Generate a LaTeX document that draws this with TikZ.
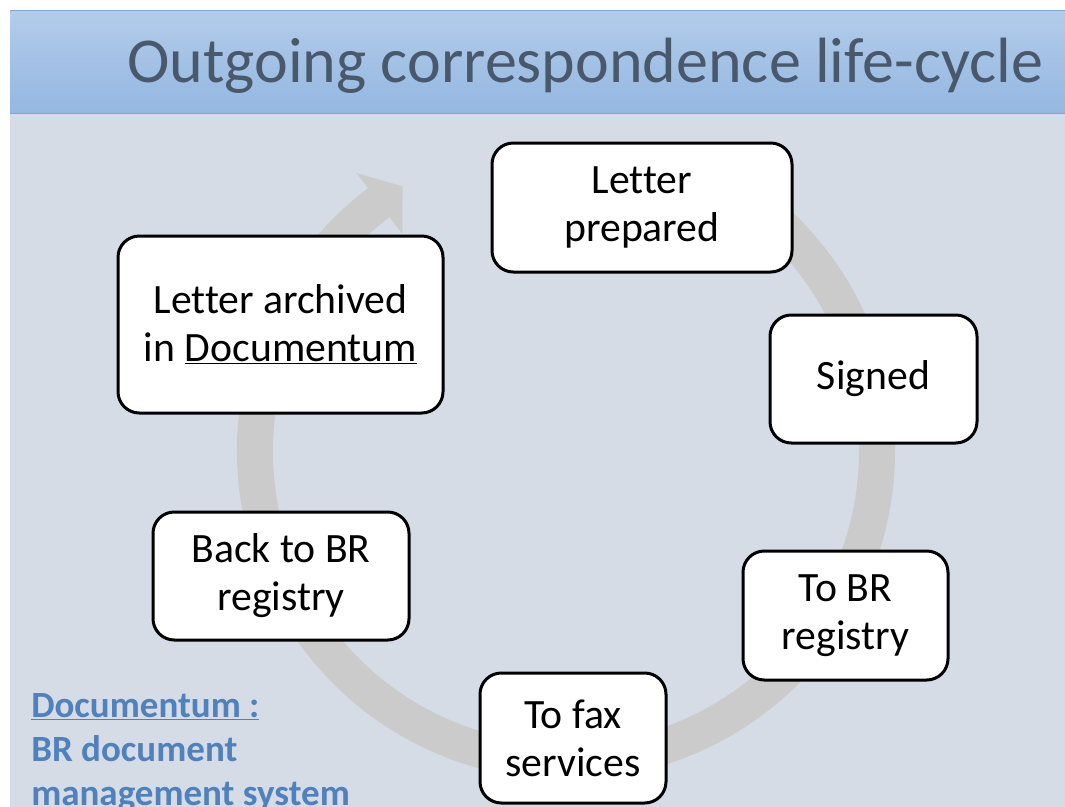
\documentclass[tikz,border=0pt]{standalone}
\usepackage{fontspec}
\setmainfont{Carlito}[Ligatures=CommonOff]
\usetikzlibrary{calc}
\definecolor{slideBg}{HTML}{D5DCE6}
\definecolor{barTop}{HTML}{B3CCEA}
\definecolor{barBottom}{HTML}{94B7E1}
\definecolor{barLine}{HTML}{7EA8DC}
\definecolor{titleText}{HTML}{4A586C}
\definecolor{ringGrey}{HTML}{CBCBCB}
\definecolor{noteBlue}{HTML}{4F81BD}
\tikzstyle{stage} = [rectangle, rounded corners=16pt, draw=black, line width=2.25pt, fill=white, align=center, inner sep=0pt, font=\fontsize{31.3}{36}\selectfont]
\tikzstyle{note} = [align=left, inner sep=0pt, text=noteBlue, font=\bfseries\fontsize{27.75}{33}\selectfont]

\begin{document}
\begin{tikzpicture}[x=0.75pt, y=-0.75pt]
\clip (0,0) rectangle (1065,807);
% Slide background and title bar
\fill[white] (0,0) rectangle (1065,807);
\fill[slideBg] (10,113) rectangle (1065,807);
\shade[top color=barTop, bottom color=barBottom] (10,10) rectangle (1065,113);
\draw[barLine, line width=0.75pt] (10,10) -- (1065,10) (10,113) -- (1065,113);
\node (title) [anchor=base west, inner sep=0pt, text=titleText, font=\fontsize{48}{57}\selectfont] at (127,82) {Outgoing correspondence life-cycle};

% Cycle arrow behind the stages
\coordinate (hub) at (566,451);
\fill[ringGrey] (hub) ++(-68:329) arc[start angle=-68, end angle=233, radius=329]
  -- ($(hub)+(233:348)$) -- ($(hub)+(238.3:311)$) -- ($(hub)+(233:272)$)
  -- ($(hub)+(233:293)$) arc[start angle=233, end angle=-68, radius=293] -- cycle;

% Placement of nodes
\node (prepared) [stage, minimum width=225pt, minimum height=96.75pt] at (642,207.5) {Letter\\prepared};
\node (signed) [stage, minimum width=155.25pt, minimum height=96pt] at (873.5,379) {Signed};
\node (toRegistry) [stage, minimum width=153.75pt, minimum height=96.75pt] at (845.5,615.5) {To BR\\registry};
\node (toFax) [stage, minimum width=139.5pt, minimum height=97.5pt] at (573,738) {To fax\\services};
\node (backRegistry) [stage, minimum width=192pt, minimum height=96pt] at (281,576) {Back to BR\\registry};
\node (archived) [stage, minimum width=243.75pt, minimum height=132.75pt] at (280.5,324.5) {Letter archived\\in \underline{Documentum}};

% Side note
\node (dmsNote) [note, anchor=base west] at (31,805) {\underline{Documentum :}\\BR document\\management system};
\end{tikzpicture}
\end{document}
